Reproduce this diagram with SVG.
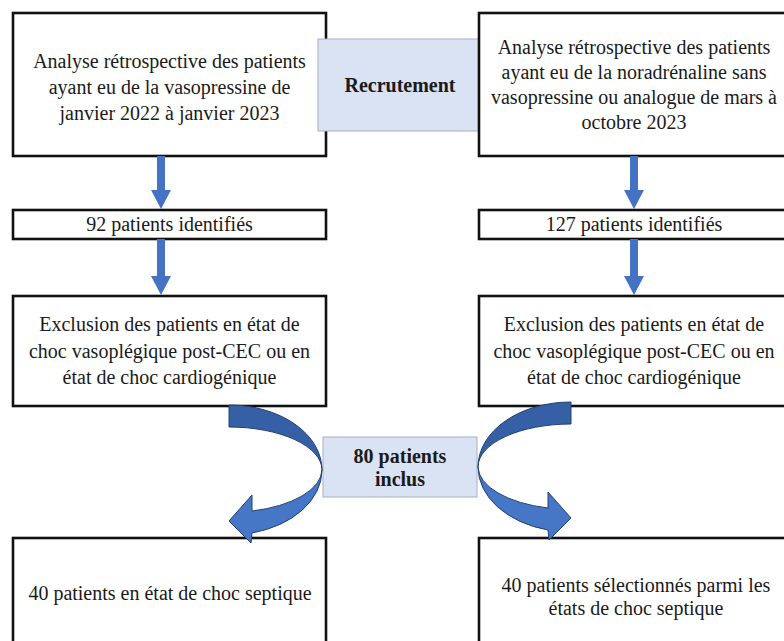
<svg xmlns="http://www.w3.org/2000/svg" width="784" height="641" viewBox="0 0 784 641">
<style>
.box{fill:#fff;stroke:#111;stroke-width:2.6}
.hl{fill:#dae3f3;stroke:#a9b0bb;stroke-width:1}
.t{font-family:"Liberation Serif","Times New Roman","DejaVu Serif",serif;font-size:20px;fill:#1a1a1a;text-anchor:middle}
.b{font-weight:bold}
.arr{fill:#4472c4}
.dk{fill:#3560a6;stroke:#22406f;stroke-width:1}
.lt{fill:#4676c6;stroke:#22406f;stroke-width:1}
</style>
<rect width="784" height="641" fill="#fff"/>
<g id="n_left_top"><rect class="box" x="13" y="13" width="313" height="143"/>
<text class="t" x="169.5" y="68">Analyse rétrospective des patients</text>
<text class="t" x="169.5" y="94">ayant eu de la vasopressine de</text>
<text class="t" x="169.5" y="120">janvier 2022 à janvier 2023</text></g>
<g id="n_recrutement"><rect class="hl" x="318" y="39" width="164" height="92"/>
<text class="t b" x="400" y="92">Recrutement</text></g>
<g id="n_right_top"><rect class="box" x="479" y="13" width="320" height="143"/>
<text class="t" x="634" y="54">Analyse rétrospective des patients</text>
<text class="t" x="634" y="79">ayant eu de la noradrénaline sans</text>
<text class="t" x="634" y="104">vasopressine ou analogue de mars à</text>
<text class="t" x="634" y="129">octobre 2023</text></g>
<g id="n_left_92"><rect class="box" x="13" y="210" width="313" height="29"/>
<text class="t" x="169.5" y="231">92 patients identifiés</text></g>
<g id="n_right_127"><rect class="box" x="479" y="210" width="320" height="29"/>
<text class="t" x="634" y="231">127 patients identifiés</text></g>
<g id="n_left_excl"><rect class="box" x="13" y="296" width="313" height="110"/>
<text class="t" x="169.5" y="331">Exclusion des patients en état de</text>
<text class="t" x="169.5" y="358">choc vasoplégique post-CEC ou en</text>
<text class="t" x="169.5" y="384">état de choc cardiogénique</text></g>
<g id="n_right_excl"><rect class="box" x="479" y="296" width="320" height="110"/>
<text class="t" x="634" y="331">Exclusion des patients en état de</text>
<text class="t" x="634" y="358">choc vasoplégique post-CEC ou en</text>
<text class="t" x="634" y="384">état de choc cardiogénique</text></g>
<g id="n_inclus"><rect class="hl" x="323" y="437" width="154" height="60"/>
<text class="t b" x="400" y="463">80 patients</text>
<text class="t b" x="400" y="486">inclus</text></g>
<g id="n_left_bottom"><rect class="box" x="13" y="538" width="313" height="120"/>
<text class="t" x="170" y="600">40 patients en état de choc septique</text></g>
<g id="n_right_bottom"><rect class="box" x="479" y="538" width="320" height="120"/>
<text class="t" x="636" y="592">40 patients sélectionnés parmi les</text>
<text class="t" x="636" y="615">états de choc septique</text></g>
<g id="connectors">
<path class="arr" d="M157,156 H165 V190 H171 L161,209 L151,190 H157 Z"/>
<path class="arr" d="M157,239 H165 V276 H171 L161,295 L151,276 H157 Z"/>
<path class="arr" d="M630,156 H638 V190 H644 L634,209 L624,190 H630 Z"/>
<path class="arr" d="M630,239 H638 V276 H644 L634,295 L624,276 H630 Z"/>
<path class="dk" d="M229,405 A93,65 0 0 1 322,470 A93,43 0 0 0 229,427 Z"/>
<path class="lt" d="M322,470 A93,65 0 0 1 252,533 L251,543 L229,521 L252,495 L252,511 A93,43 0 0 0 322,470 Z"/>
<path class="dk" d="M571,402 A93,65 0 0 0 478,467 A93,43 0 0 1 571,424 Z"/>
<path class="lt" d="M478,467 A93,65 0 0 0 548,530 L549,540 L571,518 L548,492 L548,508 A93,43 0 0 1 478,467 Z"/>
</g>
</svg>
